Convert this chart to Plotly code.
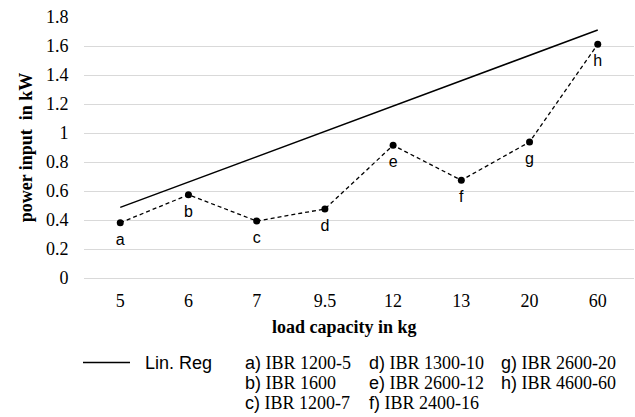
import plotly.graph_objects as go

# ---- data ----
categories = ["5", "6", "7", "9.5", "12", "13", "20", "60"]
power_kw = [0.381, 0.574, 0.393, 0.476, 0.915, 0.674, 0.938, 1.612]
point_labels = ["a", "b", "c", "d", "e", "f", "g", "h"]
linreg_x = ["5", "60"]
linreg_y = [0.487, 1.710]
y_ticks = [0, 0.2, 0.4, 0.6, 0.8, 1, 1.2, 1.4, 1.6, 1.8]
y_tick_text = ["0", "0.2", "0.4", "0.6", "0.8", "1", "1.2", "1.4", "1.6", "1.8"]
key_letters = ["a)", "b)", "c)", "d)", "e)", "f)", "g)", "h)"]
key_models = ["IBR 1200-5", "IBR 1600", "IBR 1200-7", "IBR 1300-10",
              "IBR 2600-12", "IBR 2400-16", "IBR 2600-20", "IBR 4600-60"]

W, H = 635, 417
ML, MR, MT, MB = 84, 1, 17, 139
PW = W - ML - MR
PH = H - MT - MB

def px_x(p):
    return (p - ML) / PW

def px_y(p):
    return (H - MB - p) / PH

SERIF = "Liberation Serif, Times New Roman, serif"
SANS = "Liberation Sans, Arial, sans-serif"

fig = go.Figure()

fig.add_trace(go.Scatter(
    x=linreg_x, y=linreg_y, mode="lines",
    line=dict(color="black", width=1.5),
    name="Lin. Reg", showlegend=False, hoverinfo="skip",
))

fig.add_trace(go.Scatter(
    x=categories, y=power_kw, mode="lines+markers",
    line=dict(color="black", width=1.3, dash="4px,3px"),
    marker=dict(color="black", size=7),
    cliponaxis=False, showlegend=False, name="power input",
))

# point letters (transparent larger marker only to push the text a bit lower)
fig.add_trace(go.Scatter(
    x=categories, y=power_kw, mode="markers+text",
    marker=dict(color="rgba(0,0,0,0)", size=14),
    text=point_labels, textposition="bottom center",
    textfont=dict(family=SANS, size=16, color="black"),
    cliponaxis=False, showlegend=False, hoverinfo="skip",
))

# x axis title
fig.add_annotation(xref="paper", yref="paper", x=px_x(344), y=px_y(327),
                   text="<b>load capacity in kg</b>", showarrow=False,
                   xanchor="center", yanchor="middle",
                   font=dict(family=SERIF, size=18, color="black"))

# legend sample for Lin. Reg
fig.add_shape(type="line", xref="paper", yref="paper",
              x0=px_x(83), x1=px_x(130), y0=px_y(362.5), y1=px_y(362.5),
              line=dict(color="black", width=1.3))
fig.add_annotation(xref="paper", yref="paper", x=px_x(143), y=px_y(363),
                   text="Lin. Reg", showarrow=False, xanchor="left", yanchor="middle",
                   font=dict(family=SANS, size=18, color="black"))

col_x = [243, 243, 243, 367, 367, 367, 499, 499]
row_y = [363, 383, 403, 363, 383, 403, 363, 383]
for letter, model, cx, ry in zip(key_letters, key_models, col_x, row_y):
    fig.add_annotation(
        xref="paper", yref="paper", x=px_x(cx), y=px_y(ry),
        text=f"<span style='font-family:{SANS}'>{letter}</span> {model}",
        showarrow=False, xanchor="left", yanchor="middle",
        font=dict(family=SERIF, size=18, color="black"),
    )

fig.update_layout(
    width=W, height=H,
    margin=dict(l=ML, r=MR, t=MT, b=MB, autoexpand=False),
    paper_bgcolor="white", plot_bgcolor="white",
    showlegend=False,
    xaxis=dict(
        type="category", categoryorder="array", categoryarray=categories,
        showgrid=False, showline=False, zeroline=False, automargin=False,
        ticks="outside", ticklen=6, tickcolor="rgba(0,0,0,0)",
        tickfont=dict(family=SERIF, size=18, color="black"),
        fixedrange=True,
    ),
    yaxis=dict(
        range=[0, 1.8], tickvals=y_ticks, ticktext=y_tick_text,
        showgrid=True, gridcolor="#d9d9d9", gridwidth=1,
        zeroline=True, zerolinecolor="#d9d9d9", zerolinewidth=1,
        showline=False, automargin=False,
        ticks="outside", ticklen=11, tickcolor="rgba(0,0,0,0)",
        tickfont=dict(family=SERIF, size=18, color="black"),
        title=dict(text="<b>power input\u00a0 in kW</b>",
                   font=dict(family=SERIF, size=18, color="black"), standoff=8),
        fixedrange=True,
    ),
)

fig.write_html("out.html",
               config={"displayModeBar": False},
               post_script="document.body.style.margin='0';document.body.style.overflow='hidden';")
